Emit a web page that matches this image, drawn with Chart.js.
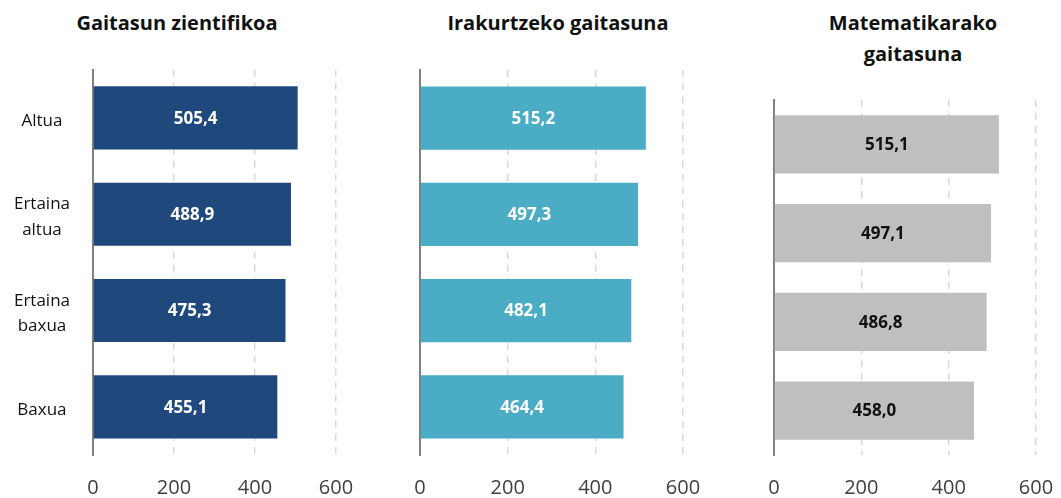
<!DOCTYPE html>
<html lang="eu">
<head>
<meta charset="utf-8">
<script src="https://cdn.jsdelivr.net/npm/chart.js"></script>
<style>
  body { margin: 0; background: #fff; }
  .wrap { position: relative; width: 1061px; height: 498px; overflow: hidden; font-family: 'Open Sans', sans-serif; }
  .title { position: absolute; text-align: center; font-weight: bold; font-size: 20px; color: #111; line-height: 31px; }
  .box { position: absolute; }
</style>
</head>
<body>
<div class="wrap">
  <div class="title" style="left:27px; top:7px; width:300px;">Gaitasun zientifikoa</div>
  <div class="title" style="left:408px; top:7px; width:300px;">Irakurtzeko gaitasuna</div>
  <div class="title" style="left:763px; top:7px; width:300px;">Matematikarako<br>gaitasuna</div>
  <div class="box" style="left:0; top:42px; width:380px; height:456px;"><canvas id="c1"></canvas></div>
  <div class="box" style="left:380px; top:60px; width:360px; height:438px;"><canvas id="c2"></canvas></div>
  <div class="box" style="left:740px; top:60px; width:360px; height:438px;"><canvas id="c3"></canvas></div>
</div>
<script>
const levels = [['Altua'], ['Ertaina', 'altua'], ['Ertaina', 'baxua'], ['Baxua']];
const science = [505.4, 488.9, 475.3, 455.1];
const reading = [515.2, 497.3, 482.1, 464.4];
const maths = [515.1, 497.1, 486.8, 458.0];
const xTicks = [0, 200, 400, 600];

// value written in the middle of each bar, with a decimal comma
const barLabels = {
  id: 'barLabels',
  afterDatasetsDraw(chart, args, opts) {
    const ctx = chart.ctx;
    const ds = chart.data.datasets[0];
    ctx.save();
    ctx.font = 'bold 17px "Open Sans", sans-serif';
    ctx.fillStyle = opts.color;
    ctx.textAlign = 'center';
    ctx.textBaseline = 'middle';
    chart.getDatasetMeta(0).data.forEach((bar, i) => {
      const txt = ds.data[i].toFixed(1).replace('.', ',');
      ctx.fillText(txt, (bar.base + bar.x) / 2, bar.y + 1);
    });
    ctx.restore();
  }
};

function makeChart(id, values, color, textColor, opt) {
  return new Chart(document.getElementById(id), {
    type: 'bar',
    data: {
      labels: levels,
      datasets: [{ data: values, backgroundColor: color, barPercentage: 0.655, categoryPercentage: 1 }]
    },
    options: {
      indexAxis: 'y',
      responsive: true,
      maintainAspectRatio: false,
      animation: false,
      layout: { padding: { top: opt.top, right: opt.right, left: 0, bottom: 0 } },
      plugins: {
        legend: { display: false },
        tooltip: { enabled: false },
        barLabels: { color: textColor }
      },
      scales: {
        x: {
          min: 0,
          max: 600,
          afterBuildTicks: s => { s.ticks = xTicks.map(v => ({ value: v })); },
          afterFit: s => { s.height = 43; },
          // dashed vertical grid lines
          border: { display: false, dash: [7, 6] },
          grid: {
            drawTicks: false,
            color: c => c.tick && c.tick.value === 0 ? 'rgba(0,0,0,0)' : '#d9d9d9',
            lineWidth: 1.5
          },
          ticks: {
            padding: 21,
            color: '#404040',
            font: { family: '"Open Sans", sans-serif', size: 20 }
          }
        },
        y: {
          afterFit: s => { s.width = opt.left; },
          grid: { display: false },
          border: { color: '#808080', width: 2 },
          ticks: {
            display: opt.showLabels,
            crossAlign: 'center',
            padding: 15,
            labelOffset: 3,
            color: '#111',
            font: { family: '"Open Sans", sans-serif', size: 17, lineHeight: 1.5 }
          }
        }
      }
    },
    plugins: [barLabels]
  });
}

makeChart('c1', science, '#1f497d', '#ffffff', { left: 93, right: 44, top: 10, showLabels: true });
makeChart('c2', reading, '#4bacc6', '#ffffff', { left: 40, right: 57, top: 10, showLabels: false });
makeChart('c3', maths, '#bfbfbf', '#111111', { left: 34, right: 64, top: 40, showLabels: false });
</script>
</body>
</html>
